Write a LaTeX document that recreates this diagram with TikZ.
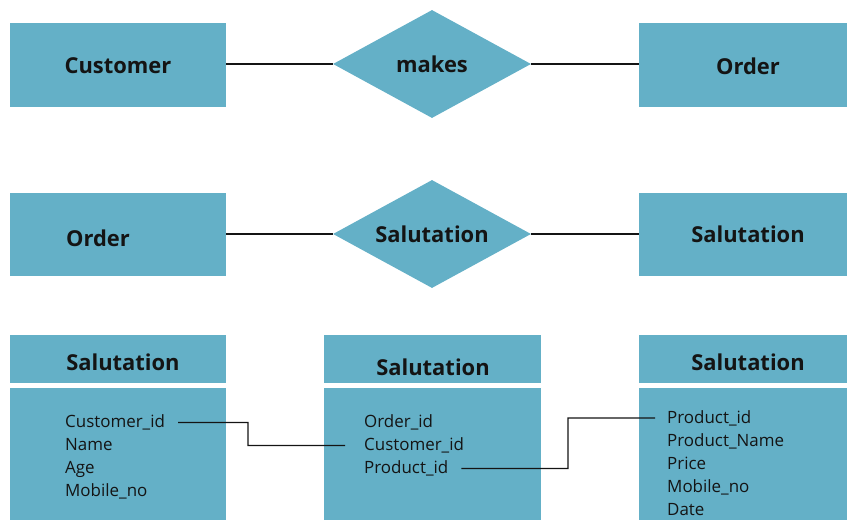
\documentclass[tikz,border=0pt]{standalone}
\usepackage{fontspec}
\setmainfont{Open Sans}
\usetikzlibrary{shapes.geometric,calc}
\definecolor{teal}{HTML}{64B0C7}
\definecolor{ink}{HTML}{141414}
\tikzset{
  ent/.style={fill=teal,draw=none,inner sep=0,font=\fontsize{22}{26}\selectfont\bfseries,text=ink},
  rel/.style={diamond,fill=teal,draw=none,inner sep=0,aspect=1.83,minimum width=198bp,minimum height=108bp,font=\fontsize{22}{26}\selectfont\bfseries,text=ink},
  hdr/.style={fill=teal,draw=none,inner sep=0,minimum height=48bp},
  hdrtxt/.style={font=\fontsize{22}{26}\selectfont\bfseries,text=ink,inner sep=0},
  body/.style={fill=teal,draw=none,inner sep=0},
  item/.style={anchor=base west,inner sep=0,font=\fontsize{17}{20}\selectfont,text=ink},
  link/.style={draw=ink,line width=1.3bp}
}
\begin{document}
\begin{tikzpicture}[x=1bp,y=-1bp]
\useasboundingbox (0,0) rectangle (847,520);
% row 1
\node[ent,minimum width=216bp,minimum height=84bp] (cust) at (118,65) {};
\node[hdrtxt] at (118,66) {Customer};
\node[rel] (makes) at (432,64) {makes};
\node[ent,minimum width=216bp,minimum height=84bp] (ord1) at (747,65) {};
\node[hdrtxt] at (748,66) {Order};
\draw[link] (cust.east |- makes.west) -- (makes.west);
\draw[link] (makes.east) -- (ord1.west |- makes.east);
% row 2
\node[ent,minimum width=216bp,minimum height=83bp] (ord2) at (118,234.5) {};
\node[hdrtxt] at (98,238) {Order};
\node[rel] (sal) at (432,234) {Salutation};
\node[ent,minimum width=216bp,minimum height=83bp] (sal2) at (747,234.5) {};
\node[hdrtxt] at (748,234) {Salutation};
\draw[link] (ord2.east |- sal.west) -- (sal.west);
\draw[link] (sal.east) -- (sal2.west |- sal.east);
% row 3 tables
\node[hdr,minimum width=216bp] (h1) at (118,359) {};
\node[hdrtxt] at (123,362) {Salutation};
\node[body,minimum width=216bp,minimum height=134bp] (b1) at (118,455) {};
\node[hdr,minimum width=217bp] (h2) at (432.5,359) {};
\node[hdrtxt] at (433,367) {Salutation};
\node[body,minimum width=217bp,minimum height=134bp] (b2) at (432.5,455) {};
\node[hdr,minimum width=216bp] (h3) at (747,359) {};
\node[hdrtxt] at (748,362) {Salutation};
\node[body,minimum width=216bp,minimum height=134bp] (b3) at (747,455) {};
% items
\node[item] (l1) at (65,427) {Customer\_id};
\node[item] (l2) at (65,450) {Name};
\node[item] (l3) at (65,473) {Age};
\node[item] (l4) at (65,496) {Mobile\_no};
\node[item] (m1) at (364,427) {Order\_id};
\node[item] (m2) at (364,450) {Customer\_id};
\node[item] (m3) at (364,473) {Product\_id};
\node[item] (r1) at (667,423) {Product\_id};
\node[item] (r2) at (667,446) {Product\_Name};
\node[item] (r3) at (667,469) {Price};
\node[item] (r4) at (667,492) {Mobile\_no};
\node[item] (r5) at (667,515) {Date};
% connectors
\coordinate (k1) at (248,445.5);
\draw[link] ([xshift=13bp,yshift=4.5bp]l1.base east) -| (k1) -- ([xshift=-19bp,yshift=4.5bp]m2.base west);
\coordinate (k2) at (568,418);
\draw[link] ([xshift=13bp,yshift=4.5bp]m3.base east) -| (k2) -- ([xshift=-12bp,yshift=5bp]r1.base west);
\end{tikzpicture}
\end{document}
